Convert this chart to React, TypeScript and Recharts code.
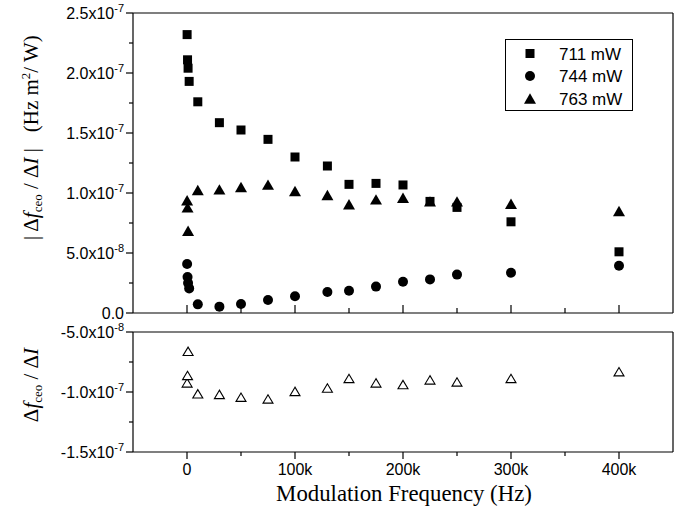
import React from 'react';
import { ScatterChart, Scatter, XAxis, YAxis, ReferenceLine, Legend } from 'recharts';

// ---------------- DATA ----------------
// Modulation frequency (Hz)
const freq711 = [100, 500, 1000, 2000, 10000, 30000, 50000, 75000, 100000, 130000, 150000, 175000, 200000, 225000, 250000, 300000, 400000];
// |Δf_ceo/ΔI| in units of 1e-7 Hz m^2/W
const val711 = [2.32, 2.11, 2.04, 1.93, 1.76, 1.586, 1.525, 1.447, 1.3, 1.225, 1.072, 1.08, 1.067, 0.93, 0.88, 0.76, 0.51];

const freq744 = [100, 500, 1000, 2000, 10000, 30000, 50000, 75000, 100000, 130000, 150000, 175000, 200000, 225000, 250000, 300000, 400000];
const val744 = [0.408, 0.3, 0.25, 0.205, 0.072, 0.053, 0.075, 0.108, 0.139, 0.175, 0.186, 0.22, 0.26, 0.28, 0.32, 0.336, 0.394];

const freq763 = [100, 500, 1000, 10000, 30000, 50000, 75000, 100000, 130000, 150000, 175000, 200000, 225000, 250000, 300000, 400000];
const val763 = [0.94, 0.88, 0.686, 1.025, 1.03, 1.05, 1.07, 1.017, 0.983, 0.906, 0.947, 0.96, 0.93, 0.93, 0.91, 0.85];
// signed Δf_ceo/ΔI (763 mW), units of 1e-7
const signed763 = [-0.924, -0.862, -0.661, -1.015, -1.02, -1.043, -1.058, -0.995, -0.967, -0.887, -0.924, -0.938, -0.899, -0.916, -0.887, -0.831];

const legendNames = ['711 mW', '744 mW', '763 mW'];

const xDomain = [-50000, 450000];
const xMajorTicks = [0, 100000, 200000, 300000, 400000];
const xMajorLabels = ['0', '100k', '200k', '300k', '400k'];
const xMinorTicks = [50000, 150000, 250000, 350000];

const yTopDomain = [0, 2.5];
const yTopMajor = [0, 0.5, 1, 1.5, 2, 2.5];
const yTopMantissa = ['0.0', '5.0', '1.0', '1.5', '2.0', '2.5'];
const yTopExponent = ['', '-8', '-7', '-7', '-7', '-7'];
const yTopMinor = [0.25, 0.75, 1.25, 1.75, 2.25];

const yBotDomain = [-1.5, -0.5];
const yBotMajor = [-1.5, -1.0, -0.5];
const yBotMantissa = ['-1.5', '-1.0', '-5.0'];
const yBotExponent = ['-7', '-7', '-8'];
const yBotMinor = [-1.25, -0.75];

// ---------------- BUILD ----------------
const toPts = (xs: number[], ys: number[]) => xs.map((x, i) => ({ x, y: ys[i] }));
const d711 = toPts(freq711, val711);
const d744 = toPts(freq744, val744);
const d763 = toPts(freq763, val763);
const d763s = toPts(freq763, signed763);

const SANS = '"Liberation Sans", Arial, Helvetica, sans-serif';
const SERIF = '"Liberation Serif", "Times New Roman", serif';

const Square = (p: any) => <rect x={p.cx - 4.5} y={p.cy - 4.5} width={9} height={9} fill="#000" />;
const Dot = (p: any) => <circle cx={p.cx} cy={p.cy} r={5} fill="#000" />;
const Tri = (p: any) => (
  <polygon points={`${p.cx},${p.cy - 5.2} ${p.cx - 6},${p.cy + 5.2} ${p.cx + 6},${p.cy + 5.2}`} fill="#000" />
);
const OpenTri = (p: any) => (
  <polygon
    points={`${p.cx},${p.cy - 4.2} ${p.cx - 5},${p.cy + 4.2} ${p.cx + 5},${p.cy + 4.2}`}
    fill="#fff"
    stroke="#000"
    strokeWidth={1.1}
  />
);

const makeYTick = (major: number[], mant: string[], expo: string[]) => (props: any) => {
  const { x, y, payload } = props;
  const idx = major.findIndex((m) => Math.abs(m - payload.value) < 1e-9);
  const isMajor = idx >= 0;
  return (
    <g>
      <line x1={x - (isMajor ? 7 : 4)} x2={x} y1={y} y2={y} stroke="#000" strokeWidth={1.2} />
      {isMajor && (
        <text x={x - 9} y={y + 6} textAnchor="end" fontFamily={SANS} fontSize={16} fill="#000">
          {mant[idx]}
          {expo[idx] ? (
            <>
              x10
              <tspan dy={-7} fontSize={11}>
                {expo[idx]}
              </tspan>
            </>
          ) : null}
        </text>
      )}
    </g>
  );
};

const makeXTick = (inward: boolean, labels: boolean) => (props: any) => {
  const { x, y, payload } = props;
  const idx = xMajorTicks.indexOf(payload.value);
  const isMajor = idx >= 0;
  const len = inward ? (isMajor ? 8 : 5) : isMajor ? 7 : 4;
  const dir = inward ? -1 : 1;
  return (
    <g>
      <line x1={x} x2={x} y1={y} y2={y + dir * len} stroke="#000" strokeWidth={1.2} />
      {labels && isMajor && (
        <text x={x} y={y + 23} textAnchor="middle" fontFamily={SANS} fontSize={16} fill="#000">
          {xMajorLabels[idx]}
        </text>
      )}
    </g>
  );
};

const allXTicks = [...xMajorTicks, ...xMinorTicks].sort((a, b) => a - b);

const LegendBox = () => {
  const shapes = [
    (cx: number, cy: number) => <rect x={cx - 4.5} y={cy - 4.5} width={9} height={9} fill="#000" />,
    (cx: number, cy: number) => <circle cx={cx} cy={cy} r={5} fill="#000" />,
    (cx: number, cy: number) => (
      <polygon points={`${cx},${cy - 5.2} ${cx - 6},${cy + 5.2} ${cx + 6},${cy + 5.2}`} fill="#000" />
    ),
  ];
  const rows = [14.5, 37, 59.5];
  return (
    <svg width={128} height={72} style={{ display: 'block' }}>
      <rect x={0.5} y={0.5} width={127} height={71} fill="#fff" stroke="#000" strokeWidth={1} />
      {legendNames.map((n, i) => (
        <g key={n}>
          {shapes[i](25, rows[i])}
          <text x={54} y={rows[i] + 6} fontFamily={SANS} fontSize={17} fill="#000">
            {n}
          </text>
        </g>
      ))}
    </svg>
  );
};

export default function App() {
  return (
    <div style={{ position: 'absolute', left: 0, top: 0, width: 686, height: 508, background: '#fff' }}>
      <div style={{ position: 'absolute', left: 0, top: 0 }}>
        <ScatterChart width={686} height={330} margin={{ top: 13, right: 13, bottom: 7, left: 0 }}>
          <XAxis
            type="number"
            dataKey="x"
            domain={xDomain}
            ticks={allXTicks}
            interval={0}
            height={10}
            tickSize={0}
            tickMargin={0}
            tickLine={false}
            tick={makeXTick(true, false)}
            axisLine={{ stroke: '#000', strokeWidth: 1.2 }}
            allowDataOverflow
          />
          <YAxis
            type="number"
            dataKey="y"
            domain={yTopDomain}
            ticks={[...yTopMajor, ...yTopMinor].sort((a, b) => a - b)}
            interval={0}
            width={133}
            tickSize={0}
            tickMargin={0}
            tickLine={false}
            tick={makeYTick(yTopMajor, yTopMantissa, yTopExponent)}
            axisLine={{ stroke: '#000', strokeWidth: 1.2 }}
            allowDataOverflow
          />
          <ReferenceLine y={2.5} stroke="#000" strokeWidth={1.2} ifOverflow="visible" />
          <ReferenceLine x={450000} stroke="#000" strokeWidth={1.2} ifOverflow="visible" />
          <Scatter name={legendNames[0]} data={d711} shape={Square} isAnimationActive={false} />
          <Scatter name={legendNames[1]} data={d744} shape={Dot} isAnimationActive={false} />
          <Scatter name={legendNames[2]} data={d763} shape={Tri} isAnimationActive={false} />
          <Legend
            layout="horizontal"
            verticalAlign="middle"
            align="center"
            wrapperStyle={{ left: 505, top: 39, width: 128, height: 72 }}
            content={() => <LegendBox />}
          />
        </ScatterChart>
      </div>
      <div style={{ position: 'absolute', left: 0, top: 320 }}>
        <ScatterChart width={686} height={188} margin={{ top: 12, right: 13, bottom: 0, left: 0 }}>
          <XAxis
            type="number"
            dataKey="x"
            domain={xDomain}
            ticks={allXTicks}
            interval={0}
            height={56}
            tickSize={0}
            tickMargin={0}
            tickLine={false}
            tick={makeXTick(false, true)}
            axisLine={{ stroke: '#000', strokeWidth: 1.2 }}
            allowDataOverflow
          />
          <YAxis
            type="number"
            dataKey="y"
            domain={yBotDomain}
            ticks={[...yBotMajor, ...yBotMinor].sort((a, b) => a - b)}
            interval={0}
            width={133}
            tickSize={0}
            tickMargin={0}
            tickLine={false}
            tick={makeYTick(yBotMajor, yBotMantissa, yBotExponent)}
            axisLine={{ stroke: '#000', strokeWidth: 1.2 }}
            allowDataOverflow
          />
          <ReferenceLine y={-0.5} stroke="#000" strokeWidth={1.2} ifOverflow="visible" />
          <ReferenceLine x={450000} stroke="#000" strokeWidth={1.2} ifOverflow="visible" />
          <Scatter name="763 mW signed" data={d763s} shape={OpenTri} isAnimationActive={false} />
        </ScatterChart>
      </div>
      <svg
        width={686}
        height={508}
        style={{ position: 'absolute', left: 0, top: 0, pointerEvents: 'none' }}
      >
        <text
          transform="translate(38,240) rotate(-90)"
          textAnchor="start"
          fontFamily={SERIF}
          fontSize={21}
          fill="#000"
          style={{ whiteSpace: 'pre' }}
        >
          <tspan>| Δ</tspan>
          <tspan fontStyle="italic">f</tspan>
          <tspan dy={4} fontSize={13}>ceo</tspan>
          <tspan dy={-4}> / Δ</tspan>
          <tspan fontStyle="italic">I</tspan>
          <tspan> |   (Hz m</tspan>
          <tspan dy={-8} fontSize={13}>2</tspan>
          <tspan dy={8}>/ W)</tspan>
        </text>
        <text
          transform="translate(38,385) rotate(-90)"
          textAnchor="middle"
          fontFamily={SERIF}
          fontSize={21}
          fill="#000"
          style={{ whiteSpace: 'pre' }}
        >
          <tspan>Δ</tspan>
          <tspan fontStyle="italic">f</tspan>
          <tspan dy={4} fontSize={13}>ceo</tspan>
          <tspan dy={-4}> / Δ</tspan>
          <tspan fontStyle="italic">I</tspan>
        </text>
        <text x={404} y={501} textAnchor="middle" fontFamily={SERIF} fontSize={22.8} fill="#000">
          Modulation Frequency (Hz)
        </text>
      </svg>
    </div>
  );
}
